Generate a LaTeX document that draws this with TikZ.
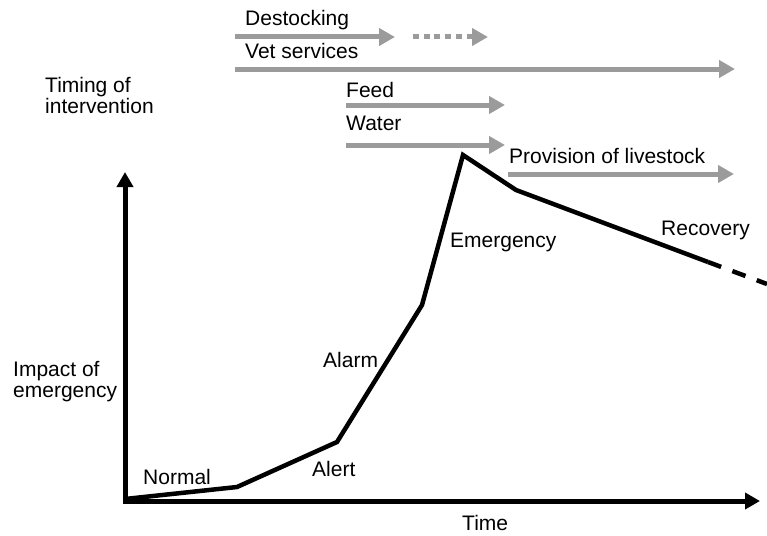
\documentclass[tikz,border=0pt]{standalone}
\usepackage{fontspec}
\setmainfont{Liberation Sans}
\usetikzlibrary{arrows.meta}
\definecolor{plangray}{RGB}{155,155,155}
\tikzset{
  lbl/.style={inner sep=0pt, anchor=base west, align=left, font=\fontsize{21}{20.5}\selectfont},
  axis/.style={line width=5pt, {Triangle[length=15pt,width=16pt]}-{Triangle[length=15pt,width=16pt]}},
  trend/.style={line width=4.5pt},
  plan/.style={line width=5pt, plangray, -{Triangle[length=16pt,width=17pt]}}
}
\begin{document}
\begin{tikzpicture}[x=1pt,y=-1pt]
\useasboundingbox (0,0) rectangle (767,535);
% axes
\coordinate (O) at (125,501);
\coordinate (Ytip) at (125,172);
\coordinate (Xtip) at (760,501);
\draw[axis] (Ytip) -- (O) -- (Xtip);
\path (45,113) node[lbl] (timing) {Timing of\\intervention};
\path (13,397) node[lbl] (impact) {Impact of\\emergency};
\path (462,530) node[lbl] (time) {Time};
% impact curve
\coordinate (P1) at (237,487);
\coordinate (P2) at (337,442);
\coordinate (P3) at (422,305);
\coordinate (P4) at (463,155);
\coordinate (P5) at (516,190);
\coordinate (P6) at (708,262);
\coordinate (P7) at (767,284);
\draw[trend] (125,499) -- (P1) -- (P2) -- (P3) -- (P4) -- (P5) -- (P6);
\draw[trend, dash pattern=on 14pt off 12pt] (P6) -- (P7);
\path (143,484) node[lbl] (normal) {Normal};
\path (312,476) node[lbl] (alert) {Alert};
\path (323,367) node[lbl] (alarm) {Alarm};
\path (450,247) node[lbl] (emerg) {Emergency};
\path (661,235) node[lbl] (recov) {Recovery};
% interventions
\path (245,26) node[lbl] (destock) {Destocking};
\path (245,59) node[lbl] (vet) {Vet services};
\path (346,97) node[lbl] (feed) {Feed};
\path (346,130) node[lbl] (water) {Water};
\path (509,163) node[lbl] (stock) {Provision of livestock};
\coordinate (destockA) at (235,37);
\coordinate (destockB) at (395,37);
\coordinate (destockC) at (413,37);
\coordinate (destockD) at (488,37);
\coordinate (vetA) at (235,69);
\coordinate (vetB) at (735,69);
\coordinate (feedA) at (346,105);
\coordinate (feedB) at (505,105);
\coordinate (waterA) at (346,145);
\coordinate (waterB) at (505,145);
\coordinate (stockA) at (508,174);
\coordinate (stockB) at (734,174);
\draw[plan] (destockA) -- (destockB);
\draw[plan, dash pattern=on 6pt off 4.7pt] (destockC) -- (destockD);
\draw[plan] (vetA) -- (vetB);
\draw[plan] (feedA) -- (feedB);
\draw[plan] (waterA) -- (waterB);
\draw[plan] (stockA) -- (stockB);
\end{tikzpicture}
\end{document}
